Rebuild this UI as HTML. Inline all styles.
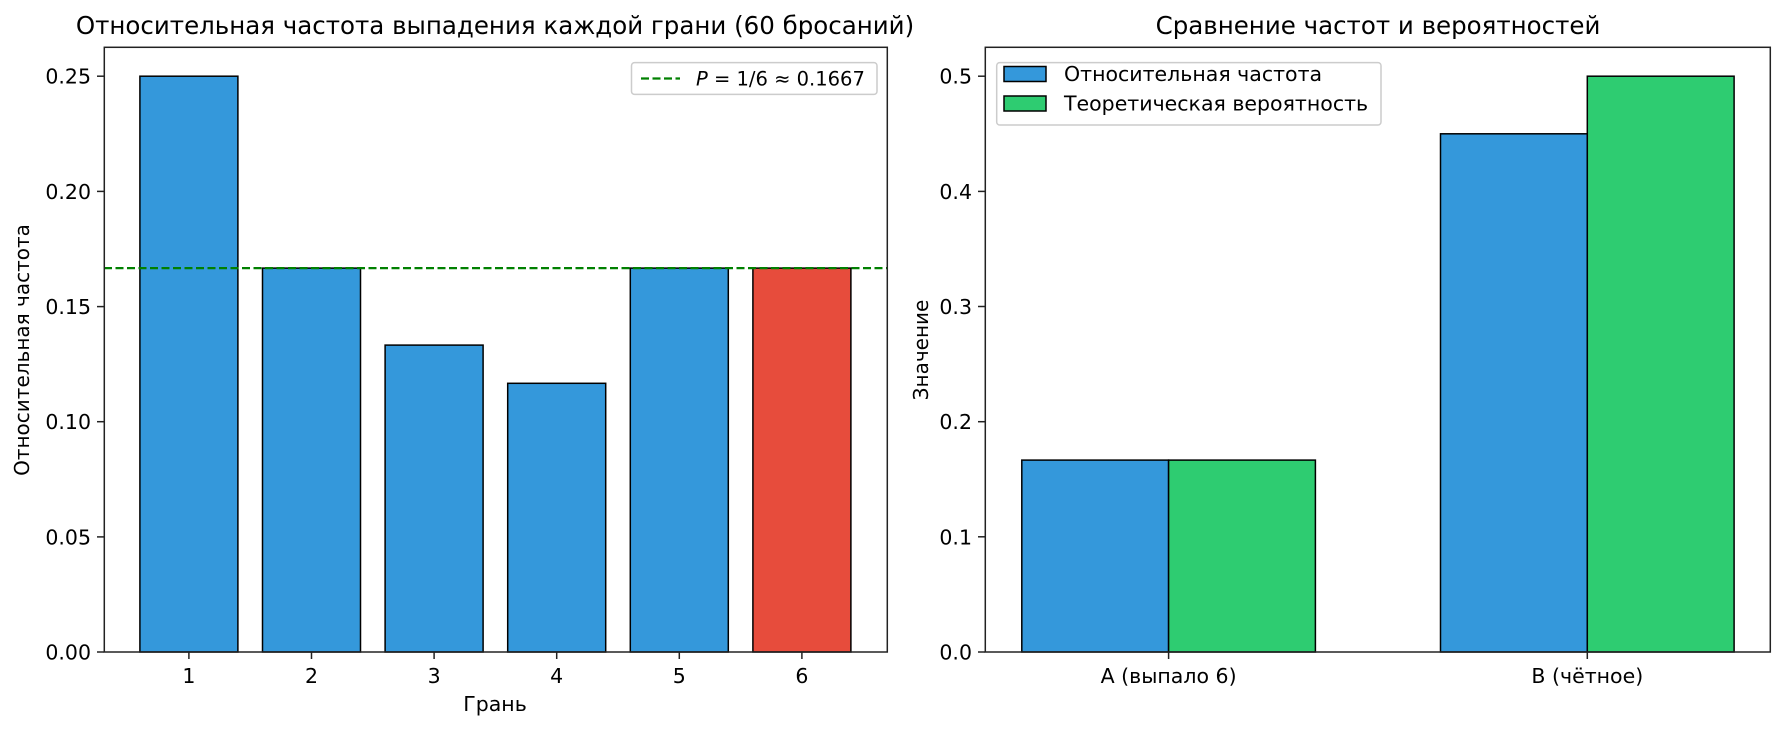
<!DOCTYPE html>
<html><head><meta charset="utf-8"><style>
body{margin:0;background:#fff}
svg text{font-family:"DejaVu Sans","Liberation Sans",sans-serif;fill:#000}
</style></head><body>
<svg width="1784" height="731" xmlns="http://www.w3.org/2000/svg">
<rect width="1784" height="731" fill="#fff"/>
<!-- LEFT -->
<text x="495" y="34" font-size="24.5" text-anchor="middle">Относительная частота выпадения каждой грани (60 бросаний)</text>
<g stroke="#000" stroke-width="1.5">
<rect x="139.9" y="76.2" width="98" height="575.8" fill="#3498db"/>
<rect x="262.5" y="268.1" width="98" height="383.9" fill="#3498db"/>
<rect x="385.1" y="345.1" width="98" height="306.9" fill="#3498db"/>
<rect x="507.7" y="383.3" width="98" height="268.7" fill="#3498db"/>
<rect x="630.3" y="268.1" width="98" height="383.9" fill="#3498db"/>
<rect x="752.9" y="268.1" width="98" height="383.9" fill="#e74c3c"/>
</g>
<line x1="104" y1="268.1" x2="887" y2="268.1" stroke="#008000" stroke-width="2.2" stroke-dasharray="8,3.5"/>
<rect x="104.3" y="47.3" width="783" height="604.7" fill="none" stroke="#222" stroke-width="1.5"/>
<g stroke="#222" stroke-width="1.5">
<line x1="97" y1="652" x2="104" y2="652"/><line x1="97" y1="536.9" x2="104" y2="536.9"/><line x1="97" y1="421.7" x2="104" y2="421.7"/><line x1="97" y1="306.6" x2="104" y2="306.6"/><line x1="97" y1="191.4" x2="104" y2="191.4"/><line x1="97" y1="76.2" x2="104" y2="76.2"/>
<line x1="188.9" y1="652" x2="188.9" y2="659"/><line x1="311.5" y1="652" x2="311.5" y2="659"/><line x1="434.1" y1="652" x2="434.1" y2="659"/><line x1="556.7" y1="652" x2="556.7" y2="659"/><line x1="679.3" y1="652" x2="679.3" y2="659"/><line x1="801.9" y1="652" x2="801.9" y2="659"/>
</g>
<g font-size="20.5" text-anchor="end">
<text x="91" y="659.5">0.00</text><text x="91" y="544.4">0.05</text><text x="91" y="429.2">0.10</text><text x="91" y="314.1">0.15</text><text x="91" y="198.9">0.20</text><text x="91" y="83.7">0.25</text>
</g>
<g font-size="20.5" text-anchor="middle">
<text x="188.9" y="683">1</text><text x="311.5" y="683">2</text><text x="434.1" y="683">3</text><text x="556.7" y="683">4</text><text x="679.3" y="683">5</text><text x="801.9" y="683">6</text>
<text x="495" y="711">Грань</text>
<text transform="translate(29,350) rotate(-90)" font-size="20">Относительная частота</text>
</g>
<rect x="631.5" y="62.6" width="245.5" height="31.8" rx="3" fill="#fff" stroke="#ccc" stroke-width="1.5"/>
<line x1="641" y1="78.5" x2="680" y2="78.5" stroke="#008000" stroke-width="2.2" stroke-dasharray="8,3.5"/>
<text x="696" y="85.5" font-size="19.5"><tspan font-style="italic">P</tspan> = 1/6 ≈ 0.1667</text>
<!-- RIGHT -->
<text x="1378" y="34" font-size="24.5" text-anchor="middle">Сравнение частот и вероятностей</text>
<g stroke="#000" stroke-width="1.5">
<rect x="1021.8" y="460.1" width="146.8" height="191.9" fill="#3498db"/>
<rect x="1168.6" y="460.1" width="146.8" height="191.9" fill="#2ecc71"/>
<rect x="1440.5" y="133.8" width="146.8" height="518.2" fill="#3498db"/>
<rect x="1587.3" y="76.2" width="146.8" height="575.8" fill="#2ecc71"/>
</g>
<rect x="985.3" y="47.3" width="785" height="604.7" fill="none" stroke="#222" stroke-width="1.5"/>
<g stroke="#222" stroke-width="1.5">
<line x1="978" y1="652" x2="985" y2="652"/><line x1="978" y1="536.8" x2="985" y2="536.8"/><line x1="978" y1="421.7" x2="985" y2="421.7"/><line x1="978" y1="306.5" x2="985" y2="306.5"/><line x1="978" y1="191.4" x2="985" y2="191.4"/><line x1="978" y1="76.2" x2="985" y2="76.2"/>
<line x1="1168.6" y1="652" x2="1168.6" y2="659"/><line x1="1587.3" y1="652" x2="1587.3" y2="659"/>
</g>
<g font-size="20.5" text-anchor="end">
<text x="972" y="659.5">0.0</text><text x="972" y="544.3">0.1</text><text x="972" y="429.2">0.2</text><text x="972" y="314">0.3</text><text x="972" y="198.9">0.4</text><text x="972" y="83.7">0.5</text>
</g>
<g font-size="20.5" text-anchor="middle">
<text x="1168.6" y="683">A (выпало 6)</text><text x="1587.3" y="683">B (чётное)</text>
<text transform="translate(928,350) rotate(-90)" font-size="20">Значение</text>
</g>
<rect x="996.7" y="62.6" width="384.3" height="62.4" rx="3" fill="#fff" stroke="#ccc" stroke-width="1.5"/>
<rect x="1004" y="66.5" width="42" height="15" fill="#3498db" stroke="#000" stroke-width="1.5"/>
<rect x="1004" y="96" width="42" height="15" fill="#2ecc71" stroke="#000" stroke-width="1.5"/>
<text x="1064" y="81" font-size="20.5">Относительная частота</text>
<text x="1064" y="110.5" font-size="20.5">Теоретическая вероятность</text>
</svg>
</body></html>
